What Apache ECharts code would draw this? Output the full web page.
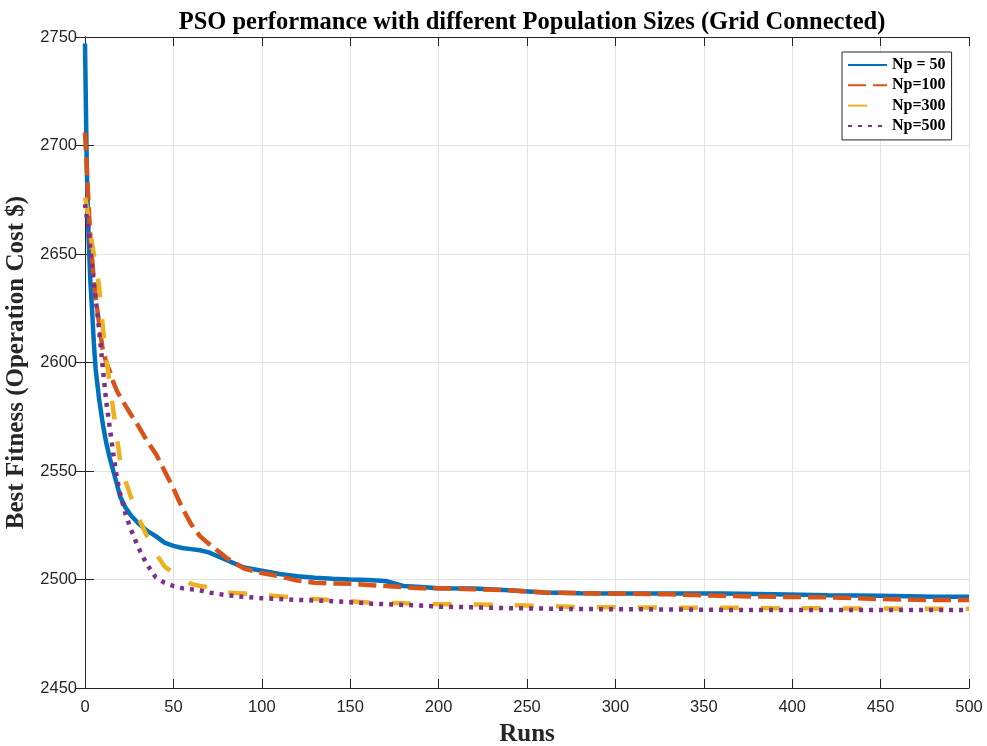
<!DOCTYPE html>
<html>
<head>
<meta charset="utf-8">
<script src="https://cdn.jsdelivr.net/npm/echarts@6/dist/echarts.min.js"></script>
<style>html,body{margin:0;padding:0;background:#fff;}#c{width:987px;height:746px;}</style>
</head>
<body>
<div id="c"></div>
<script>
const runs = [0,1,2,3,4,5,6,8,10,12,14,16,18,20,23,26,30,35,40,45,50,55,60,65,70,80,90,100,110,120,130,140,150,160,170,180,190,200,220,240,260,280,300,330,360,390,420,450,480,500];
const np50 = [2747,2690,2658,2638,2624,2609,2597,2583,2572,2563,2556,2550,2544,2538,2533,2529.5,2526,2522.5,2520,2517,2515.5,2514.5,2514,2513.5,2512.5,2509,2505.5,2504,2502.5,2501.5,2500.8,2500.3,2500,2499.8,2499.3,2497,2496.5,2496,2495.8,2495,2494,2493.7,2493.5,2493.5,2493.5,2493.2,2492.7,2492.5,2492,2492];
const np100 = [2706,2690,2673,2658,2648,2638,2630,2618,2606,2600,2596,2591,2587,2584,2580,2576,2571,2564,2558,2550,2542,2533,2525.5,2520,2516.5,2510,2505,2503,2501.5,2499.5,2498.5,2498.2,2498,2497.5,2497,2496.5,2496,2496,2495.5,2495,2494,2493.7,2493.5,2493.2,2492.5,2492,2491.8,2491,2490.5,2490.5];
const np300 = [2676,2672,2666,2660,2655,2650,2645,2635,2617,2602,2590,2578,2566,2554,2545,2538,2529,2520,2512,2506,2503,2501,2498,2497,2496.5,2494,2493.5,2492.8,2492.3,2491.5,2491,2490.5,2490,2489.4,2489.2,2489,2488.8,2488.6,2488.5,2488.2,2487.8,2487.3,2487.2,2487,2487,2486.8,2486.7,2486.6,2486.5,2486.5];
const np500 = [2673,2667,2662,2653,2644,2637,2630,2615,2598,2582,2570,2558,2547,2539,2530,2523,2515,2507,2501,2498.5,2497,2496,2495.5,2495,2494,2492.8,2492,2491.4,2491,2490.6,2490.3,2490,2489.5,2489,2488.6,2488.3,2488,2487.5,2487.2,2486.8,2486.6,2486.4,2486.3,2486.2,2486,2486,2486,2486,2486,2486];
const seriesNames = ['Np = 50','Np=100','Np=300','Np=500'];
const xTicks = {min:0, max:500, interval:50};
const yTicks = {min:2450, max:2750, interval:50};

const pairs = v => runs.map((r,i)=>[r,v[i]]);
const axisCol = '#262626';
const serif = '"Liberation Serif","Times New Roman",serif';
const sans = '"Liberation Sans",Arial,sans-serif';

const chart = echarts.init(document.getElementById('c'));
const mk = (name, data, color, type) => ({
  name, type:'line', data:pairs(data), showSymbol:false, symbol:'none',
  lineStyle:{color, width:4.5, type, cap:'butt'}, itemStyle:{color},
  animation:false, z: 3
});
chart.setOption({
  animation:false,
  backgroundColor:'#fff',
  title:{text:'PSO performance with different Population Sizes (Grid Connected)',
    left:527, top:5, textAlign:'center',
    textStyle:{fontFamily:serif, fontWeight:'bold', fontSize:24.5, color:'#000'}},
  grid:{left:85, right:18, top:37, bottom:58, containLabel:false, outerBoundsMode:'none'},
  legend:{orient:'vertical', left:842, top:52, itemWidth:39, itemHeight:4, itemGap:4.3,
    padding:[5,6,6,5], borderColor:axisCol, borderWidth:1, backgroundColor:'#fff',
    itemStyle:{opacity:0},
    textStyle:{fontFamily:serif, fontWeight:'bold', fontSize:16, color:'#000'},
    data:seriesNames},
  xAxis:[{type:'value', min:xTicks.min, max:xTicks.max, interval:xTicks.interval,
    name:'Runs', nameLocation:'middle', nameGap:34,
    nameTextStyle:{fontFamily:serif, fontWeight:'bold', fontSize:25, color:axisCol},
    axisLine:{lineStyle:{color:axisCol, width:1}},
    axisTick:{inside:true, length:9, lineStyle:{color:axisCol}},
    axisLabel:{fontFamily:sans, fontSize:16.5, color:axisCol, margin:11},
    splitLine:{show:true, lineStyle:{color:'#e3e3e3', width:1}}},
   {type:'value', position:'top', min:xTicks.min, max:xTicks.max, interval:xTicks.interval,
    axisLine:{show:true, lineStyle:{color:axisCol}}, axisTick:{inside:true, length:9, lineStyle:{color:axisCol}},
    axisLabel:{show:false}, splitLine:{show:false}}],
  yAxis:[{type:'value', min:yTicks.min, max:yTicks.max, interval:yTicks.interval,
    name:'Best Fitness (Operation Cost $)', nameLocation:'middle', nameGap:46,
    nameTextStyle:{fontFamily:serif, fontWeight:'bold', fontSize:25, color:axisCol},
    axisLine:{show:true, lineStyle:{color:axisCol, width:1}},
    axisTick:{show:true, inside:true, length:9, lineStyle:{color:axisCol}},
    axisLabel:{fontFamily:sans, fontSize:16.5, color:axisCol, margin:8, formatter:v=>String(v)},
    splitLine:{show:true, lineStyle:{color:'#e3e3e3', width:1}}},
   {type:'value', position:'right', min:yTicks.min, max:yTicks.max, interval:yTicks.interval,
    axisLine:{show:true, lineStyle:{color:axisCol}}, axisTick:{show:true, inside:true, length:9, lineStyle:{color:axisCol}},
    axisLabel:{show:false}, splitLine:{show:false}}],
  series:[
    mk(seriesNames[0], np50, '#0072BD', 'solid'),
    mk(seriesNames[1], np100, '#D95319', [18,7]),
    mk(seriesNames[2], np300, '#EDB120', [19,22]),
    mk(seriesNames[3], np500, '#7E2F8E', [4,6])
  ]
});
</script>
</body>
</html>
